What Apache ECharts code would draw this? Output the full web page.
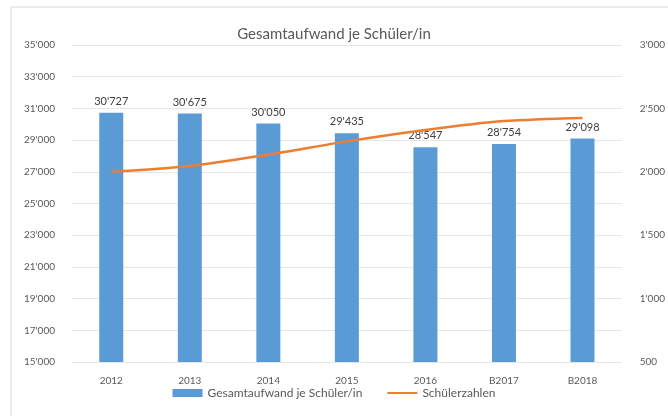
<!DOCTYPE html>
<html>
<head>
<meta charset="utf-8">
<script src="https://cdn.jsdelivr.net/npm/echarts@6/dist/echarts.min.js"></script>
<style>
  html, body { margin: 0; padding: 0; background: #fff; }
  #chart { width: 668px; height: 416px; }
</style>
</head>
<body>
<div id="chart"></div>
<script>
var jahre = ['2012', '2013', '2014', '2015', '2016', 'B2017', 'B2018'];
var aufwand = [30727, 30675, 30050, 29435, 28547, 28754, 29098];
var schueler = [2000, 2045, 2135, 2240, 2330, 2400, 2425];
var linkeTicks = [15000, 17000, 19000, 21000, 23000, 25000, 27000, 29000, 31000, 33000, 35000];

var fmt = function (v) {
    return String(v).replace(/\B(?=(\d{3})+(?!\d))/g, "'");
};

var dom = document.getElementById('chart');
var myChart = echarts.init(dom);

var grau = '#595959';
var schrift = 'Lato, "Open Sans", sans-serif';

var option = {
    animation: false,
    textStyle: { fontFamily: schrift },
    title: {
        text: 'Gesamtaufwand je Schüler/in',
        left: 'center',
        top: 22,
        textStyle: { fontSize: 15, fontWeight: 'normal', color: grau, fontFamily: schrift }
    },
    graphic: [{
        type: 'rect',
        shape: { x: 11, y: 7, width: 700, height: 450 },
        style: { fill: 'none', stroke: '#d9d9d9', lineWidth: 1 },
        silent: true
    }],
    legend: {
        bottom: 12,
        left: 'center',
        itemGap: 24,
        itemWidth: 30,
        itemHeight: 8,
        textStyle: { fontSize: 12, color: grau },
        data: [
            { name: 'Gesamtaufwand je Schüler/in', icon: 'rect' },
            { name: 'Schülerzahlen', itemStyle: { opacity: 0 } }
        ]
    },
    grid: { left: 72, right: 46, top: 45, bottom: 54 },
    xAxis: {
        type: 'category',
        data: jahre,
        axisLine: { show: false },
        axisTick: { show: false },
        axisLabel: { fontSize: 10, color: grau, margin: 14 }
    },
    yAxis: [
        {
            type: 'value',
            min: 15000,
            max: 35000,
            axisLine: { show: false },
            axisTick: { show: false, customValues: linkeTicks },
            axisLabel: { fontSize: 10, color: grau, formatter: fmt, customValues: linkeTicks, margin: 17 },
            splitLine: { lineStyle: { color: '#e6e6e6' } }
        },
        {
            type: 'value',
            min: 500,
            max: 3000,
            interval: 500,
            position: 'right',
            axisLine: { show: false },
            axisTick: { show: false },
            axisLabel: { fontSize: 10, color: grau, formatter: fmt, margin: 18 },
            splitLine: { show: false }
        }
    ],
    series: [
        {
            name: 'Gesamtaufwand je Schüler/in',
            type: 'bar',
            data: aufwand,
            barWidth: 24,
            itemStyle: { color: '#5b9bd5' },
            label: {
                show: true,
                position: 'top',
                distance: 6,
                fontSize: 11,
                color: '#404040',
                formatter: function (p) { return fmt(p.value); }
            }
        },
        {
            name: 'Schülerzahlen',
            type: 'line',
            yAxisIndex: 1,
            data: schueler,
            smooth: 0.3,
            symbol: 'none',
            lineStyle: { color: '#ed7d31', width: 2.5 },
            itemStyle: { color: '#ed7d31' }
        }
    ]
};

myChart.setOption(option, true);
</script>
</body>
</html>
